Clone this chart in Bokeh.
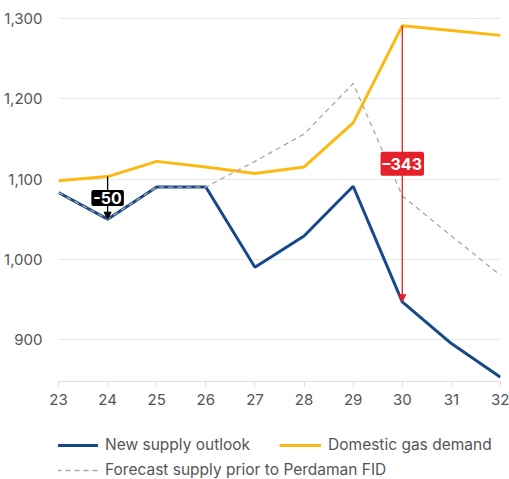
from bokeh.plotting import figure
from bokeh.layouts import column
from bokeh.models import (ColumnDataSource, Legend, LegendItem, FixedTicker, NumeralTickFormatter,
                          Arrow, NormalHead, Label, Range1d)
from bokeh.embed import file_html
from bokeh.resources import INLINE

years = [23, 24, 25, 26, 27, 28, 29, 30, 31, 32]
new_supply = [1083, 1050, 1090, 1090, 990, 1029, 1091, 947, 895, 853]
domestic_demand = [1098, 1103, 1122, 1115, 1107, 1115, 1170, 1291, 1285, 1279]
forecast_prior = [1083, 1050, 1090, 1090, 1122, 1156, 1219, 1079, 1029, 980]
y_ticks = [900, 1000, 1100, 1200, 1300]
gap_years = [24, 30]
gap_labels = ["-50", "–343"]
gap_colors = ["#000000", "#E4202A"]
series_labels = ["New supply outlook", "Domestic gas demand", "Forecast supply prior to Perdaman FID"]

FONT = "Inter"
BLUE = "#17498A"
YELLOW = "#FDB913"
GREY = "#A8A8A8"
TXT = "#555555"

p = figure(frame_width=442, frame_height=371, output_backend="svg", toolbar_location=None,
           x_range=Range1d(23, 32), y_range=Range1d(847.7, 1310),
           min_border_left=58, min_border_right=9, min_border_top=10, min_border_bottom=40)
p.outline_line_color = None

src = ColumnDataSource(dict(x=years, s=new_supply, d=domestic_demand, f=forecast_prior))
p.line("x", "d", source=src, line_color=YELLOW, line_width=3)
p.line("x", "s", source=src, line_color=BLUE, line_width=3)
p.line("x", "f", source=src, line_color=GREY, line_width=1.3, line_dash="5 4")

for yr, lab, col in zip(gap_years, gap_labels, gap_colors):
    i = years.index(yr)
    top = domestic_demand[i]
    bot = new_supply[i]
    p.add_layout(Arrow(x_start=yr, y_start=top, x_end=yr, y_end=bot,
                       line_color=col, line_width=1.3,
                       end=NormalHead(size=7, fill_color=col, line_color=col)))
    p.add_layout(Label(x=yr, y=(top + bot) / 2, text=lab, text_color="white",
                       text_font=FONT, text_font_style="bold", text_font_size="16px",
                       text_align="center", text_baseline="middle",
                       background_fill_color=col, padding=2, border_radius=2))

p.xaxis.ticker = FixedTicker(ticks=years)
p.xaxis.axis_line_color = "#DDDDDD"
p.xaxis.major_tick_line_color = "#DDDDDD"
p.xaxis.major_tick_out = 5
p.xaxis.major_tick_in = 0
p.xaxis.minor_tick_line_color = None
p.xaxis.major_label_text_font = FONT
p.xaxis.major_label_text_font_size = "15px"
p.xaxis.major_label_text_color = TXT
p.xaxis.major_label_standoff = 7

p.yaxis.ticker = FixedTicker(ticks=y_ticks)
p.yaxis.formatter = NumeralTickFormatter(format="0,0")
p.yaxis.axis_line_color = None
p.yaxis.major_tick_line_color = None
p.yaxis.minor_tick_line_color = None
p.yaxis.major_label_text_font = FONT
p.yaxis.major_label_text_font_size = "15px"
p.yaxis.major_label_text_color = TXT
p.yaxis.major_label_standoff = 10

p.xgrid.grid_line_color = None
p.ygrid.ticker = FixedTicker(ticks=y_ticks)
p.ygrid.grid_line_color = "#E8E8E8"

# legend strip below the chart (series drawn outside its visible range; only legend shows)
lf = figure(width=509, height=58, output_backend="svg", toolbar_location=None,
            x_range=Range1d(0, 1), y_range=Range1d(0, 1),
            min_border_left=58, min_border_right=9, min_border_top=0, min_border_bottom=0)
lf.axis.visible = False
lf.grid.visible = False
lf.outline_line_color = None
g_s = lf.line("x", "s", source=src, line_color=BLUE, line_width=3)
g_d = lf.line("x", "d", source=src, line_color=YELLOW, line_width=3)
g_f = lf.line("x", "f", source=src, line_color=GREY, line_width=1.3, line_dash="5 4")

def mk_legend(items, loc):
    return Legend(items=items, orientation="horizontal", location=loc,
                  label_text_font=FONT, label_text_font_size="15.5px", label_text_color=TXT,
                  glyph_width=42, glyph_height=18, label_height=18, label_standoff=7, spacing=29,
                  padding=0, margin=0, border_line_color=None, background_fill_alpha=0)

lf.add_layout(mk_legend([LegendItem(label=series_labels[0], renderers=[g_s]),
                         LegendItem(label=series_labels[1], renderers=[g_d])], (-2, 25)))
lf.add_layout(mk_legend([LegendItem(label=series_labels[2], renderers=[g_f])], (-2, 0)))

lay = column(p, lf, spacing=0)
open("out.html", "w").write(file_html(lay, INLINE))
